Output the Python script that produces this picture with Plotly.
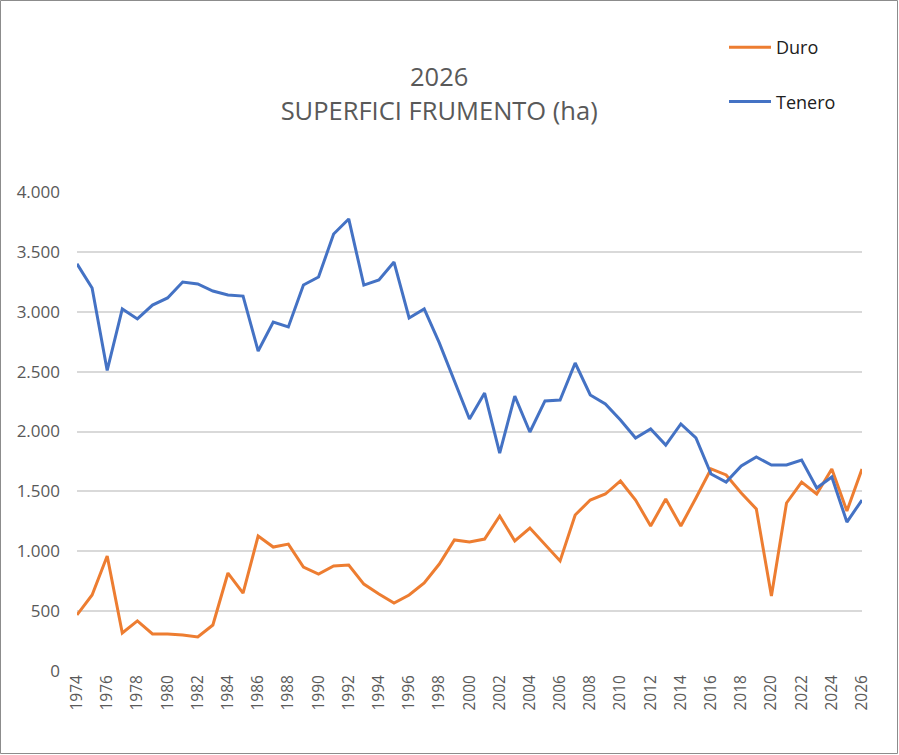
import plotly.graph_objects as go

years = list(range(1974, 2027))
duro = [468, 635, 960, 317, 418, 309, 309, 300, 284, 384,
        818, 651, 1127, 1035, 1060, 868, 810, 877, 885, 726,
        643, 568, 635, 735, 893, 1094, 1077, 1102, 1294, 1086,
        1194, 1060, 919, 1303, 1428, 1478, 1587, 1428, 1211, 1436,
        1211, 1445, 1687, 1637, 1486, 1353, 626, 1403, 1578, 1478,
        1687, 1336, 1687]
tenero = [3400, 3198, 2510, 3023, 2940, 3056, 3115, 3248, 3232, 3173,
          3140, 3131, 2672, 2914, 2873, 3223, 3290, 3649, 3775, 3223,
          3265, 3415, 2948, 3023, 2740, 2422, 2104, 2321, 1820, 2296,
          1996, 2255, 2263, 2572, 2305, 2230, 2096, 1946, 2021, 1887,
          2063, 1946, 1645, 1578, 1712, 1787, 1720, 1720, 1762, 1528,
          1620, 1244, 1428]
xticks = list(range(1974, 2027, 2))
yticks = list(range(0, 4001, 500))

L, R, T, B = 77, 37, 192, 84
W, H = 899, 755
pw, ph = W - L - R, H - T - B

fig = go.Figure()
fig.add_trace(go.Scatter(x=years, y=duro, mode="lines", name="Duro",
                         line=dict(color="#ED7D31", width=3), legendgroup="a"))
fig.add_trace(go.Scatter(x=years, y=tenero, mode="lines", name="Tenero",
                         line=dict(color="#4472C4", width=3), legendgroup="b"))

fig.update_layout(
    width=W, height=H,
    paper_bgcolor="white", plot_bgcolor="white",
    margin=dict(l=L, r=R, t=T, b=B, autoexpand=False),
    separators=",.",
    font=dict(family="Open Sans, Liberation Sans, sans-serif", color="#595959"),
    title=dict(text="2026<br>SUPERFICI FRUMENTO (ha)", x=0.4885, xanchor="center",
               y=0.8855, yanchor="middle",
               font=dict(size=25.5, color="#595959")),
    showlegend=True,
    legend=dict(x=(724 - L) / pw, y=1 + (T - 29) / ph, xanchor="left", yanchor="top",
                font=dict(size=18, color="#202020"), itemwidth=42,
                tracegroupgap=28, bgcolor="rgba(0,0,0,0)"),
    xaxis=dict(range=[1974, 2026], tickmode="array", tickvals=xticks,
               ticktext=[str(t) for t in xticks], tickangle=-90,
               showgrid=False, zeroline=False, showline=False,
               tickfont=dict(size=15.5, color="#595959"), ticks=""),
    yaxis=dict(range=[0, 4000], tickmode="array", tickvals=yticks,
               tickformat=",d", showgrid=True, gridcolor="#d9d9d9", gridwidth=1.5,
               zeroline=False, showline=False, ticklabelstandoff=16,
               tickfont=dict(size=17, color="#595959"), ticks=""),
)

# chart border
fig.add_shape(type="rect", xref="paper", yref="paper",
              x0=-(L - 0.5) / pw, x1=1 + (R - 1.5) / pw,
              y0=-(B - 1.5) / ph, y1=1 + (T - 0.5) / ph,
              line=dict(color="#8c8c8c", width=1), layer="below")

fig.write_html("out.html", config={"displayModeBar": False},
               post_script="document.body.style.margin='0';")
